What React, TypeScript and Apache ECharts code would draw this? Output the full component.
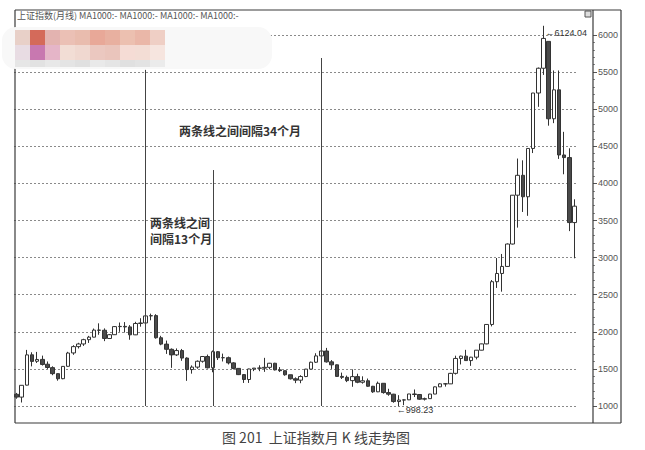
import React, { useEffect, useRef } from "react";
import * as echarts from "echarts";

// monthly candles, Apr 1999 .. Apr 2008
const START_YEAR = 1999;
const START_MONTH = 4;

const opens = [
  1158, 1120, 1281, 1690, 1603, 1628, 1563, 1517, 1436,
  1368, 1535, 1715, 1800, 1836, 1894, 1928, 2023, 2021, 1910, 1961, 2070,
  2073, 2066, 1959, 2112, 2119, 2214, 2218, 1920, 1834, 1764, 1689, 1747,
  1646, 1491, 1524, 1603, 1667, 1515, 1732, 1651, 1651, 1581, 1507, 1423,
  1357, 1499, 1511, 1510, 1521, 1576, 1487, 1476, 1421, 1367, 1348, 1397,
  1497, 1590, 1675, 1741, 1595, 1555, 1399, 1386, 1342, 1396, 1320, 1340,
  1266, 1191, 1306, 1181, 1159, 1060, 1080, 1083, 1162, 1155, 1092, 1099,
  1161, 1258, 1299, 1298, 1440, 1641, 1672, 1612, 1658, 1752, 1837, 2099,
  2675, 2786, 2881, 3183, 3841, 4109, 3820, 4471, 5218, 5552, 5914, 4871,
  5261, 4383, 4348, 3472,
];
const closes = [
  1120, 1279, 1689, 1601, 1627, 1560, 1519, 1436, 1367,
  1534, 1714, 1800, 1836, 1894, 1928, 2023, 2021, 1910, 1961, 2070, 2073,
  2065, 1959, 2112, 2119, 2214, 2218, 1920, 1834, 1764, 1689, 1747, 1646,
  1491, 1524, 1603, 1667, 1515, 1732, 1651, 1651, 1581, 1507, 1423, 1357,
  1499, 1511, 1510, 1521, 1576, 1487, 1476, 1421, 1367, 1348, 1397, 1497,
  1590, 1675, 1741, 1595, 1555, 1399, 1386, 1342, 1396, 1320, 1340, 1266,
  1191, 1306, 1181, 1159, 1060, 1080, 1083, 1162, 1155, 1092, 1099, 1161,
  1258, 1299, 1298, 1440, 1641, 1672, 1612, 1658, 1752, 1837, 2099, 2675,
  2786, 2881, 3183, 3841, 4109, 3820, 4471, 5218, 5552, 5954, 4871, 5261,
  4383, 4348, 3472, 3693,
];
const lows = [
  1098, 1047, 1277, 1534, 1580, 1545, 1500, 1415, 1341,
  1361, 1530, 1690, 1775, 1810, 1850, 1925, 1960, 1874, 1906, 1959, 2000,
  1990, 1893, 1956, 2069, 2104, 2155, 1907, 1819, 1702, 1514, 1674, 1609,
  1339, 1436, 1502, 1584, 1506, 1455, 1620, 1600, 1560, 1493, 1417, 1311,
  1311, 1470, 1469, 1460, 1495, 1479, 1458, 1408, 1357, 1308, 1307, 1389,
  1495, 1580, 1653, 1585, 1500, 1395, 1364, 1322, 1259, 1307, 1301, 1259,
  1177, 1187, 1166, 1138, 1044, 998.23, 1011, 1080, 1121, 1083, 1074, 1098,
  1160, 1257, 1261, 1297, 1424, 1560, 1609, 1541, 1628, 1750, 1832, 2073,
  2591, 2541, 2876, 3177, 3404, 3615, 3563, 4409, 5032, 5462, 4778, 4812,
  4330, 4123, 3357, 2990,
];
const highs = [
  1176, 1280, 1756, 1724, 1729, 1679, 1600, 1535, 1440,
  1537, 1730, 1819, 1852, 1906, 1945, 2044, 2114, 2046, 1970, 2078, 2125,
  2131, 2090, 2135, 2183, 2232, 2245, 2237, 1946, 1882, 1776, 1776, 1769,
  1656, 1547, 1614, 1674, 1693, 1748, 1741, 1706, 1666, 1590, 1509, 1430,
  1503, 1512, 1549, 1649, 1581, 1582, 1524, 1478, 1422, 1386, 1415, 1500,
  1598, 1711, 1777, 1783, 1619, 1560, 1450, 1410, 1494, 1435, 1400, 1370,
  1271, 1329, 1307, 1232, 1164, 1146, 1090, 1163, 1223, 1159, 1113, 1164,
  1263, 1307, 1309, 1446, 1678, 1679, 1757, 1662, 1753, 1840, 2101, 2698,
  2994, 3049, 3191, 3842, 4335, 4311, 4472, 5219, 5562, 6124.04, 5914, 5522,
  5522, 4695, 4473, 3786,
];

const yTicks = [1000, 1500, 2000, 2500, 3000, 3500, 4000, 4500, 5000, 5500, 6000];

// vertical reference lines: [month, top price]
const refLines: [string, number][] = [
  ["2001-05", 5530],
  ["2002-06", 4180],
  ["2004-03", 5690],
];
const peakMonth = "2007-10";
const peakValue = 6124.04;
const lowMonth = "2005-06";
const lowValue = 998.23;

const headerText = "上证指数(月线) MA1000:- MA1000:- MA1000:- MA1000:-";
const note34 = "两条线之间间隔34个月";
const note13 = ["两条线之间", "间隔13个月"];
const caption = "图 201  上证指数月 K 线走势图";

const mosaicRow1 = ["#e8d0c8", "#d46a5a", "#e3b3b0", "#ebc0b5", "#e9bcae", "#e8a898", "#e8b0a0", "#ecc0b0", "#eab7a8", "#efcfc5"];
const mosaicRow2 = ["#e8dce3", "#c878b0", "#e5b5c8", "#f2ddd5", "#f0d8d0", "#ebc8c0", "#eac5bc", "#f5dcd5", "#f3ddd5", "#f6e5df"];
const mosaicRow3 = ["#e6e6e6", "#e2e2e2", "#e8e8e8", "#e4e4e4", "#e0e0e0", "#e9e9e9", "#e5e5e5", "#e0e0e0", "#e3e3e3", "#ebebeb"];

function monthLabels(n: number): string[] {
  const out: string[] = [];
  let y = START_YEAR;
  let m = START_MONTH;
  for (let i = 0; i < n; i++) {
    out.push(`${y}-${m < 10 ? "0" + m : m}`);
    m++;
    if (m > 12) {
      m = 1;
      y++;
    }
  }
  return out;
}

const LABEL_FONT = "Liberation Sans Narrow, Liberation Sans, sans-serif";

export default function App() {
  const ref = useRef<HTMLDivElement>(null);
  useEffect(() => {
    if (!ref.current) return;
    const chart = echarts.init(ref.current, null, { renderer: "svg" });
    const cats = monthLabels(opens.length);
    const data = opens.map((o, i) => [o, closes[i], lows[i], highs[i]]);

    chart.setOption({
      animation: false,
      backgroundColor: "#ffffff",
      grid: { left: 14, top: 35, width: 563, height: 371 },
      xAxis: {
        type: "category",
        data: cats,
        boundaryGap: true,
        axisLine: { show: false },
        axisTick: { show: false },
        axisLabel: { show: false },
        splitLine: { show: false },
      },
      yAxis: {
        type: "value",
        position: "right",
        offset: 16,
        min: 1000,
        max: 6000,
        interval: 500,
        axisLine: { show: false },
        axisTick: { show: true, length: 4, lineStyle: { color: "#555" } },
        minorTick: { show: true, splitNumber: 5, length: 2, lineStyle: { color: "#888" } },
        axisLabel: {
          margin: 5,
          fontSize: 9,
          color: "#555",
          fontFamily: LABEL_FONT,
          formatter: (v: number) => (yTicks.includes(v) ? String(v) : ""),
        },
        splitLine: { show: true, lineStyle: { type: [2, 2], color: "#8a8a8a", width: 1 } },
      },
      series: [
        {
          type: "candlestick",
          data,
          clip: false,
          barWidth: 4,
          itemStyle: {
            color: "#ffffff",
            color0: "#4a4a4a",
            borderColor: "#333333",
            borderColor0: "#333333",
            borderWidth: 1,
          },
          markLine: {
            silent: true,
            symbol: "none",
            label: { show: false },
            data: refLines.map(([m, top]) => [
              { coord: [m, top], lineStyle: { color: "#444", type: "solid", width: 1 } },
              { coord: [m, 1000] },
            ]),
          },
        },
      ],
    });

    // annotation positions from the chart's own scales (values lie outside the axis extent)
    const pPeak = chart.convertToPixel({ xAxisIndex: 0, yAxisIndex: 0 }, [peakMonth, peakValue]) as number[];
    const pLow = chart.convertToPixel({ xAxisIndex: 0, yAxisIndex: 0 }, [lowMonth, lowValue]) as number[];

    const mosaic: any[] = [];
    [mosaicRow1, mosaicRow2, mosaicRow3].forEach((row, r) => {
      row.forEach((c, i) => {
        mosaic.push({
          type: "rect",
          shape: { x: 15 + i * 15, y: 30 + r * 15, width: 15, height: r === 2 ? 7 : 15 },
          style: { fill: c },
          z: 101,
        });
      });
    });

    const frameLine = (x1: number, y1: number, x2: number, y2: number) => ({
      type: "line",
      shape: { x1, y1, x2, y2 },
      style: { stroke: "#3a3a3a", lineWidth: 1.2 },
      z: 50,
    });

    const textEl = (x: number, y: number, text: string, size: number, extra: any = {}) => ({
      type: "text",
      x,
      y,
      z: 60,
      style: {
        text,
        fontSize: size,
        fill: "#333",
        fontFamily: "Noto Sans CJK SC, sans-serif",
        ...extra,
      },
    });

    chart.setOption({
      graphic: [
        frameLine(15, 10, 621, 10),
        frameLine(15, 423, 621, 423),
        frameLine(15, 10, 15, 423),
        frameLine(621, 10, 621, 423),
        frameLine(593, 10, 593, 423),
        {
          type: "rect",
          shape: { x: 585, y: 11, width: 6, height: 6 },
          style: { fill: "#ddd", stroke: "#555", lineWidth: 1 },
          z: 50,
        },
        textEl(17, 11, headerText, 9, { fill: "#555" }),
        {
          type: "rect",
          shape: { x: 2, y: 27, width: 270, height: 42, r: 14 },
          style: { fill: "#f8f8f8" },
          z: 100,
        },
        ...mosaic,
        textEl(pPeak[0] + 2, pPeak[1] + 7, "←" + peakValue.toFixed(2), 9, {
          fontFamily: LABEL_FONT,
          verticalAlign: "middle",
        }),
        textEl(pLow[0] - 2, pLow[1] + 4, "←" + lowValue.toFixed(2), 9, {
          fontFamily: LABEL_FONT,
          verticalAlign: "middle",
        }),
        textEl(240, 130, note34, 12, { fontWeight: "bold", align: "center", verticalAlign: "middle" }),
        textEl(150, 222, note13[0], 12, { fontWeight: "bold", verticalAlign: "middle" }),
        textEl(150, 238, note13[1], 12, { fontWeight: "bold", verticalAlign: "middle" }),
        textEl(316, 437, caption, 14, { fill: "#444", align: "center", verticalAlign: "middle" }),
      ],
    });
    return () => chart.dispose();
  }, []);
  return (
    <div
      ref={ref}
      style={{ position: "fixed", left: 0, top: 0, width: 645, height: 450, background: "#fff" }}
    />
  );
}
